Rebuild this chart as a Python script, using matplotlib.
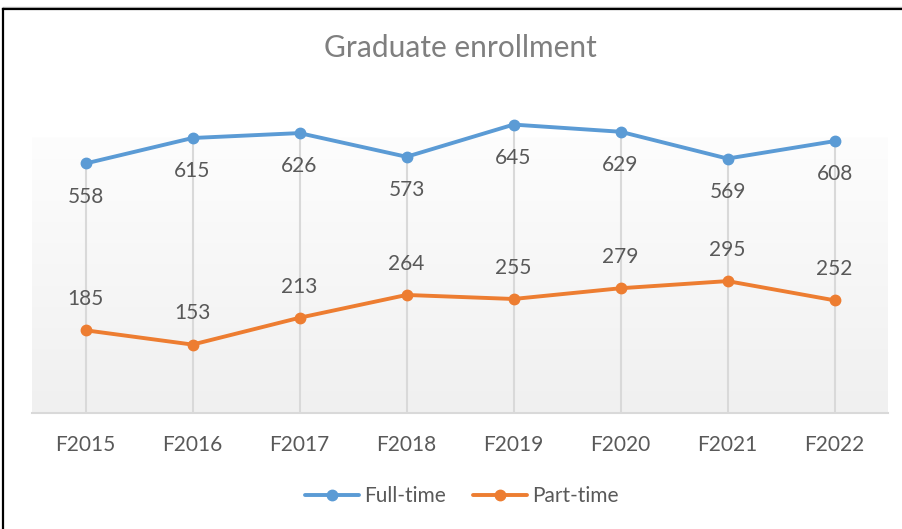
import numpy as np
import matplotlib.pyplot as plt
from matplotlib.lines import Line2D

years = ["F2015", "F2016", "F2017", "F2018", "F2019", "F2020", "F2021", "F2022"]
full_time = [558, 615, 626, 573, 645, 629, 569, 608]
part_time = [185, 153, 213, 264, 255, 279, 295, 252]

plt.rcParams['font.family'] = ['Lato', 'DejaVu Sans']
text_color = "#595959"
blue = "#5B9BD5"
orange = "#ED7D31"

fig = plt.figure(figsize=(9.02, 5.29), dpi=100)
ax = fig.add_axes([32 / 902, 1 - 413 / 529, (888 - 32) / 902, 313 / 529])
ax.set_xlim(-0.5, len(years) - 0.5)
ax.set_ylim(0, 700)

# gradient fill of the plot area (white at top -> light gray at bottom)
grad = np.linspace(0, 1, 256).reshape(-1, 1)
ax.imshow(grad, cmap=plt.matplotlib.colors.LinearSegmentedColormap.from_list(
    "g", ["#f0f0f0", "#fdfdfd"]), aspect="auto",
    extent=[-0.5, len(years) - 0.5, 0, 700 * (413 - 137) / 313],
    origin="lower", zorder=0)

x = np.arange(len(years))

# drop lines
for xi, hi in zip(x, full_time):
    ax.plot([xi, xi], [0, hi], color="#d9d9d9", lw=1.5, zorder=1)

ax.plot(x, full_time, color=blue, lw=2.8, marker="o", ms=7.5, label="Full-time",
        zorder=3, solid_capstyle="round")
ax.plot(x, part_time, color=orange, lw=2.8, marker="o", ms=7.5, label="Part-time",
        zorder=3, solid_capstyle="round")

for xi, v in zip(x, full_time):
    ax.annotate(str(v), (xi, v), xytext=(0, -24), textcoords="offset points",
                ha="center", va="center", fontsize=15, color=text_color)
for xi, v in zip(x, part_time):
    ax.annotate(str(v), (xi, v), xytext=(0, 22.5), textcoords="offset points",
                ha="center", va="center", fontsize=15, color=text_color)

ax.set_xticks(x)
ax.set_xticklabels(years, fontsize=15, color=text_color)
ax.tick_params(axis="x", length=0, pad=16)
ax.set_yticks([])
for s in ["top", "right", "left"]:
    ax.spines[s].set_visible(False)
ax.spines["bottom"].set_color("#d9d9d9")
ax.spines["bottom"].set_linewidth(1.5)

fig.text(460 / 902, 1 - 48 / 529, "Graduate enrollment", ha="center", va="center",
         fontsize=21.5, color="#7f7f7f")

leg = fig.legend(loc="center", bbox_to_anchor=(462 / 902, 1 - 496 / 529), ncol=2,
                 frameon=False, fontsize=15, handlelength=2.6, columnspacing=1.3,
                 handletextpad=0.25)
for t in leg.get_texts():
    t.set_color(text_color)

# frame lines of the screenshot
fig.add_artist(Line2D([3 / 902, 1], [1 - 7 / 529, 1 - 7 / 529], color="#c0c0c0", lw=1,
                      transform=fig.transFigure))
fig.add_artist(Line2D([3 / 902, 1], [1 - 9 / 529, 1 - 9 / 529], color="black", lw=1.6,
                      transform=fig.transFigure))
fig.add_artist(Line2D([3 / 902, 3 / 902], [0, 1 - 9 / 529], color="black", lw=1.6,
                      transform=fig.transFigure))

fig.savefig("out.png", dpi=100)
